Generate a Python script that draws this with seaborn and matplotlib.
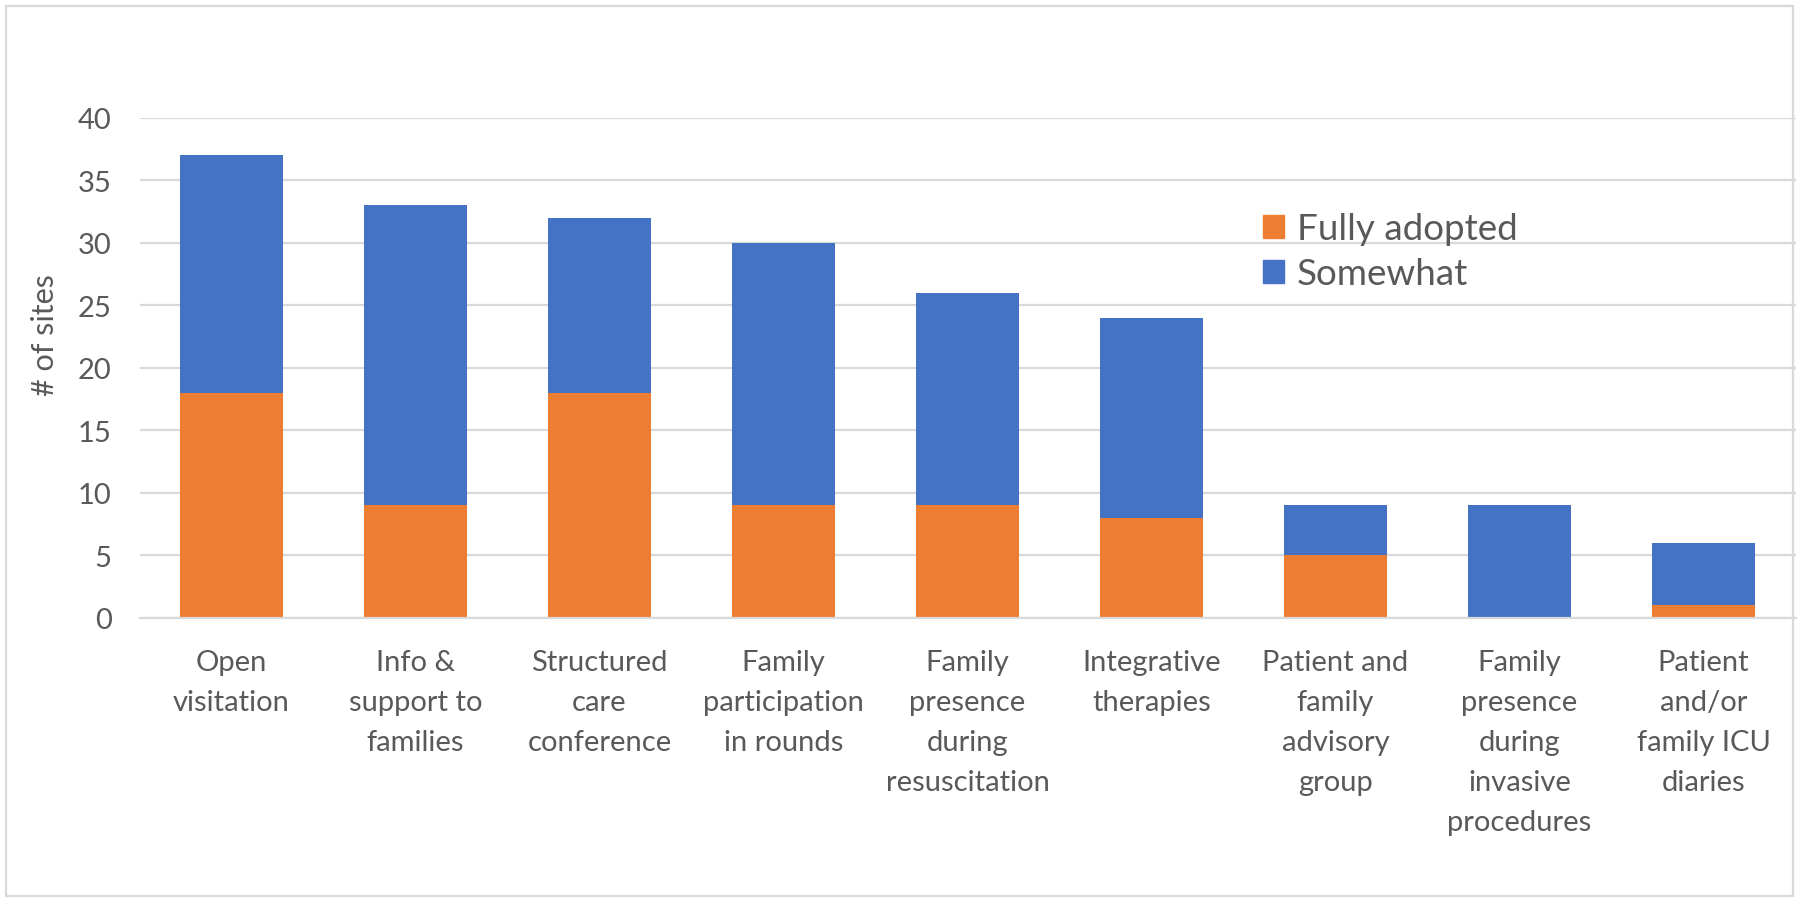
import matplotlib
matplotlib.use("Agg")
import matplotlib.pyplot as plt
import pandas as pd
import seaborn as sns
from matplotlib.patches import Patch, Rectangle

categories = ["Open\nvisitation", "Info &\nsupport to\nfamilies", "Structured\ncare\nconference",
              "Family\nparticipation\nin rounds", "Family\npresence\nduring\nresuscitation",
              "Integrative\ntherapies", "Patient and\nfamily\nadvisory\ngroup",
              "Family\npresence\nduring\ninvasive\nprocedures", "Patient\nand/or\nfamily ICU\ndiaries"]
fully_adopted = [18, 9, 18, 9, 9, 8, 5, 0, 1]
somewhat = [19, 24, 14, 21, 17, 16, 4, 9, 5]

ORANGE = "#ED7D31"
BLUE = "#4472C4"
TEXT = "#595959"
GRID = "#D9D9D9"

df = pd.DataFrame({"category": categories, "fully": fully_adopted, "somewhat": somewhat})
df["total"] = df["fully"] + df["somewhat"]

sns.set_style("white")
plt.rcParams["font.family"] = ["Lato", "DejaVu Sans"]

fig = plt.figure(figsize=(18, 9.04), dpi=100)
ax = fig.add_axes([0.0775, 0.3153, 0.92, 0.5534])

# blue bar is the total, orange drawn on top of it
sns.barplot(data=df, x="category", y="total", color=BLUE, width=0.56, saturation=1,
            linewidth=0, ax=ax)
sns.barplot(data=df, x="category", y="fully", color=ORANGE, width=0.56, saturation=1,
            linewidth=0, ax=ax)

ax.set_ylim(0, 40)
ax.set_xlim(-0.5, len(categories) - 0.5)
ax.set_yticks(range(0, 41, 5))
ax.yaxis.grid(True, color=GRID, linewidth=1.6)
ax.set_axisbelow(True)
for s in ["top", "right", "left"]:
    ax.spines[s].set_visible(False)
ax.spines["bottom"].set_color(GRID)
ax.spines["bottom"].set_linewidth(1.6)
ax.tick_params(axis="both", length=0, labelsize=21, labelcolor=TEXT)
ax.tick_params(axis="x", pad=22)
ax.tick_params(axis="y", pad=20)
for lab in ax.get_xticklabels():
    lab.set_linespacing(1.67)
ax.set_xlabel("")
ax.set_ylabel("# of sites", fontsize=22, color=TEXT)
ax.yaxis.set_label_coords(-0.0485, 0.568)

handles = [Patch(color=ORANGE, label="Fully adopted"), Patch(color=BLUE, label="Somewhat")]
ax.legend(handles=handles, loc="upper left", bbox_to_anchor=(0.7017, 0.764),
          bbox_transform=fig.transFigure, frameon=False, borderpad=0, borderaxespad=0,
          fontsize=26.5, labelcolor=TEXT, handlelength=0.57, handleheight=0.57,
          handletextpad=0.35, labelspacing=0.33)

fig.patches.append(Rectangle((6 / 1800, 7 / 904), 1787 / 1800, 890 / 904, transform=fig.transFigure,
                             fill=False, edgecolor=GRID, linewidth=1.6))

fig.savefig("out.png", dpi=100)
